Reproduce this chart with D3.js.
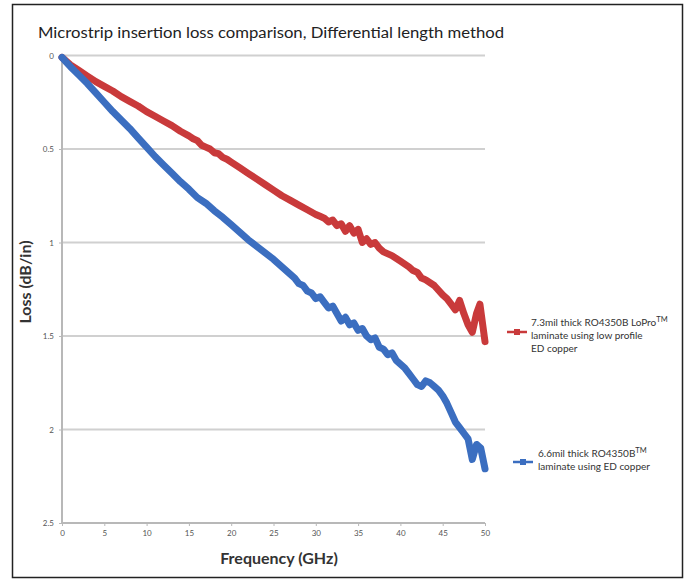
<!DOCTYPE html>
<html>
<head>
<meta charset="utf-8">
<script src="https://cdn.jsdelivr.net/npm/d3@7"></script>
<style>
  body { margin: 0; background: #fff; }
  text { font-family: Lato, "Open Sans", sans-serif; }
</style>
</head>
<body>
<div id="chart"></div>
<script>
// values
const freqRed = [0, 0.5, 1, 1.5, 2, 3, 4, 5, 6, 7, 8, 9, 10, 11, 12, 13, 14, 15, 15.5, 16, 16.5, 17, 17.5, 18, 18.5, 19, 19.5, 20,
  21, 22, 23, 24, 25, 26, 27, 28, 29, 30, 30.5, 31, 31.5, 32, 32.5, 33, 33.5, 34, 34.5, 35, 35.5, 36, 36.5, 37, 37.5, 38, 39, 40,
  41, 41.5, 42, 42.5, 43, 44, 45, 45.5, 46, 46.5, 47, 47.5, 48, 48.5, 49, 49.4, 50]
const lossRed = [0.01, 0.03, 0.05, 0.065, 0.08, 0.11, 0.14, 0.165, 0.19, 0.22, 0.245, 0.27, 0.3, 0.325, 0.35, 0.375, 0.405, 0.43, 0.445, 0.455, 0.48, 0.49, 0.5, 0.52, 0.525, 0.545, 0.555, 0.57,
  0.6, 0.63, 0.66, 0.69, 0.72, 0.75, 0.775, 0.8, 0.825, 0.85, 0.86, 0.87, 0.89, 0.88, 0.91, 0.9, 0.94, 0.91, 0.95, 0.93, 1.0, 0.98, 1.01, 1.0, 1.03, 1.05, 1.07, 1.1,
  1.13, 1.15, 1.16, 1.19, 1.2, 1.23, 1.28, 1.3, 1.33, 1.36, 1.31, 1.38, 1.44, 1.48, 1.38, 1.33, 1.53]

const freqBlue = [0, 0.5, 1, 2, 3, 4, 5, 6, 7, 8, 9, 10, 11, 12, 13, 14, 15, 16, 17, 18, 19, 20, 21, 22, 23, 24, 25, 26, 27, 27.5, 28, 28.5, 29, 29.5,
  30, 30.5, 31, 31.5, 32, 32.5, 33, 33.5, 34, 34.5, 35, 35.5, 36, 36.5, 37, 37.5, 38, 38.5, 39, 39.5, 40, 40.5, 41, 41.5, 42, 42.5, 43, 43.5,
  44, 44.5, 45, 45.5, 46, 46.5, 47, 47.5, 48, 48.5, 49, 49.5, 50]
const lossBlue = [0.01, 0.035, 0.06, 0.105, 0.15, 0.2, 0.25, 0.3, 0.345, 0.39, 0.44, 0.49, 0.54, 0.585, 0.63, 0.675, 0.715, 0.76, 0.79, 0.83, 0.865, 0.905, 0.945, 0.985, 1.02, 1.055, 1.09, 1.13, 1.17, 1.19, 1.22, 1.23, 1.26, 1.27,
  1.3, 1.29, 1.32, 1.35, 1.34, 1.38, 1.42, 1.4, 1.44, 1.43, 1.47, 1.46, 1.5, 1.52, 1.51, 1.56, 1.57, 1.6, 1.59, 1.63, 1.65, 1.67, 1.7, 1.73, 1.76, 1.77, 1.74, 1.75,
  1.77, 1.79, 1.82, 1.86, 1.91, 1.96, 1.99, 2.02, 2.05, 2.16, 2.08, 2.1, 2.21]

const xTicks = [0, 5, 10, 15, 20, 25, 30, 35, 40, 45, 50]
const yTicks = [0, 0.5, 1, 1.5, 2, 2.5]

const titleText = "Microstrip insertion loss comparison, Differential length method"
const legendRed = ["7.3mil thick RO4350B LoPro", "laminate using low profile", "ED copper"]
const legendBlue = ["6.6mil thick RO4350B", "laminate using ED copper"]

const RED = "#c93a3b"
const BLUE = "#3b6ec0"

/**
 * Appends the svg and the outer frame.
 * @return {Object} svg
 */
function appendToDom() {
    const svg = d3.select("#chart").append("svg")
        .attr("width", 690)
        .attr("height", 581)
    svg.append("rect")
        .attr("x", 12.5).attr("y", 4.5)
        .attr("width", 670).attr("height", 573)
        .attr("fill", "#fff")
        .attr("stroke", "#222")
        .attr("stroke-width", 1.5)
    return svg
}

/**
 * Draws gridlines, the axes lines and the tick labels.
 */
function drawAxes(svg, x, y) {
    svg.append("g")
        .selectAll("line")
        .data(yTicks)
        .enter()
        .append("line")
        .attr("x1", x(0)).attr("x2", x(50))
        .attr("y1", d => y(d)).attr("y2", d => y(d))
        .attr("stroke", d => d === 2.5 ? "#b8b8b8" : "#d0d0d0")
        .attr("stroke-width", 2)

    svg.append("line")
        .attr("x1", x(0)).attr("x2", x(0))
        .attr("y1", y(0)).attr("y2", y(2.5))
        .attr("stroke", "#b8b8b8")
        .attr("stroke-width", 2)

    const xAxis = svg.append("g")
        .attr("transform", "translate(0," + y(2.5) + ")")
        .call(d3.axisBottom(x).tickValues(xTicks).tickSize(3).tickFormat(d3.format("d")))
    xAxis.select(".domain").remove()
    xAxis.selectAll("line").attr("stroke", "#b8b8b8")
    xAxis.selectAll("text").attr("fill", "#555").style("font-size", "8px").attr("dy", "0.9em")

    const yAxis = svg.append("g")
        .attr("transform", "translate(" + x(0) + ",0)")
        .call(d3.axisLeft(y).tickValues(yTicks).tickSize(3).tickFormat(d => d))
    yAxis.select(".domain").remove()
    yAxis.selectAll("line").attr("stroke", "#b8b8b8")
    yAxis.selectAll("text").attr("fill", "#555").style("font-size", "8px").attr("x", -8)
}

/**
 * Draws one loss curve.
 */
function drawCurve(svg, xs, ys, color, x, y) {
    const data = xs.map((f, i) => [f, ys[i]])
    svg.append("path")
        .datum(data)
        .attr("fill", "none")
        .attr("stroke", color)
        .attr("stroke-width", 7)
        .attr("stroke-linejoin", "round")
        .attr("stroke-linecap", "round")
        .attr("d", d3.line()
            .x(d => x(d[0]))
            .y(d => y(d[1])))
}

/**
 * Title and axis names.
 */
function drawLabels(svg) {
    svg.append("text")
        .attr("x", 38).attr("y", 38)
        .style("font-size", "15.5px")
        .attr("textLength", 466)
        .attr("lengthAdjust", "spacingAndGlyphs")
        .attr("fill", "#222")
        .text(titleText)

    svg.append("text")
        .attr("text-anchor", "middle")
        .style("font-size", "16px")
        .style("font-weight", "bold")
        .attr("fill", "#333")
        .attr("transform", "translate(31,282)rotate(-90)")
        .text("Loss (dB/in)")

    svg.append("text")
        .attr("text-anchor", "middle")
        .style("font-size", "16px")
        .style("font-weight", "bold")
        .attr("fill", "#333")
        .attr("x", 279).attr("y", 564)
        .text("Frequency (GHz)")
}

/**
 * One legend entry: line with square marker and a few text lines.
 */
function legendEntry(svg, lines, color, mx, my, tx, ty) {
    svg.append("line")
        .attr("x1", mx).attr("x2", mx + 20)
        .attr("y1", my).attr("y2", my)
        .attr("stroke", color).attr("stroke-width", 2.5)
    svg.append("rect")
        .attr("x", mx + 7).attr("y", my - 3)
        .attr("width", 6).attr("height", 6)
        .attr("fill", color)
    lines.forEach((l, i) => {
        const t = svg.append("text")
            .attr("x", tx).attr("y", ty + i * 13)
            .style("font-size", "10px")
            .attr("fill", "#333")
            .text(l)
        if (i === 0) {
            t.append("tspan")
                .attr("dy", -4)
                .style("font-size", "7.5px")
                .text("TM")
        }
    })
}

function drawGraph() {
    const svg = appendToDom()
    const x = d3.scaleLinear().domain([0, 50]).range([62, 485])
    const y = d3.scaleLinear().domain([0, 2.5]).range([55.5, 523])
    drawAxes(svg, x, y)
    drawCurve(svg, freqRed, lossRed, RED, x, y)
    drawCurve(svg, freqBlue, lossBlue, BLUE, x, y)
    drawLabels(svg)
    legendEntry(svg, legendRed, RED, 507, 332, 531, 326)
    legendEntry(svg, legendBlue, BLUE, 513, 462, 538, 457)
}

drawGraph()
</script>
</body>
</html>
